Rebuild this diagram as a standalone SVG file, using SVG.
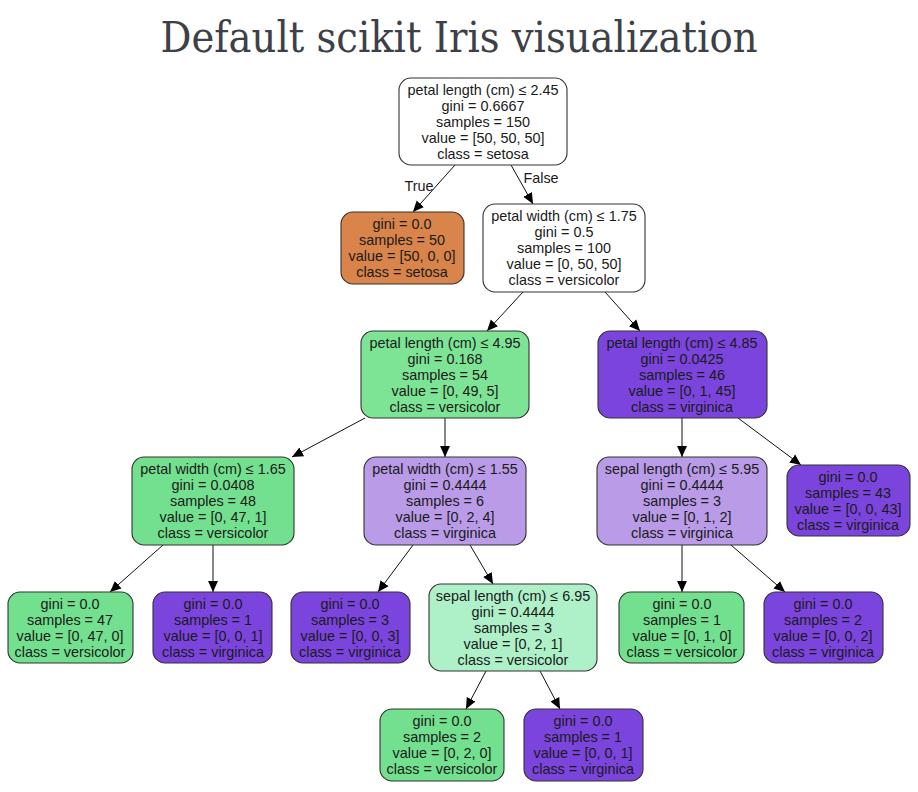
<svg xmlns="http://www.w3.org/2000/svg" width="918" height="792" viewBox="0 0 918 792">
<defs>
<style>
.title{font-family:"DejaVu Serif","Liberation Serif",serif;font-size:42px;fill:#3d4147}
.n rect{stroke:#333;stroke-width:1.1}
.n text{font-family:"Liberation Sans",Arial,sans-serif;font-size:14.4px;fill:#1a1a1a;text-anchor:middle}
.e line{stroke:#111;stroke-width:1}
.lbl{font-family:"Liberation Sans",Arial,sans-serif;font-size:14.4px;fill:#1a1a1a;text-anchor:middle}
.w{fill:#ffffff}.o{fill:#d9844a}.g{fill:#72e08e}.g2{fill:#7de495}.p{fill:#7b45dd}.lp{fill:#b99be8}.lg{fill:#aef0c8}
</style>
<marker id="ah" viewBox="0 0 10 10" refX="10" refY="5" markerWidth="11" markerHeight="11" markerUnits="userSpaceOnUse" orient="auto">
<path d="M0,0.5 L10,5 L0,9.5 Z" fill="#000"/>
</marker>
</defs>
<rect width="918" height="792" fill="#fff"/>
<text class="title" x="459" y="52" text-anchor="middle" textLength="597" lengthAdjust="spacingAndGlyphs">Default scikit Iris visualization</text>

<g id="connectors" class="e">
<line x1="455" y1="165" x2="413" y2="212" marker-end="url(#ah)"/>
<line x1="511" y1="165" x2="533" y2="204" marker-end="url(#ah)"/>
<line x1="523" y1="292" x2="487" y2="331" marker-end="url(#ah)"/>
<line x1="605" y1="292" x2="640" y2="331" marker-end="url(#ah)"/>
<line x1="365" y1="418" x2="292" y2="457" marker-end="url(#ah)"/>
<line x1="445" y1="418" x2="445" y2="457" marker-end="url(#ah)"/>
<line x1="682" y1="418" x2="682" y2="457" marker-end="url(#ah)"/>
<line x1="738" y1="418" x2="801" y2="465" marker-end="url(#ah)"/>
<line x1="163" y1="545" x2="110" y2="592" marker-end="url(#ah)"/>
<line x1="213" y1="545" x2="213" y2="592" marker-end="url(#ah)"/>
<line x1="413" y1="545" x2="378" y2="592" marker-end="url(#ah)"/>
<line x1="470" y1="545" x2="493" y2="584" marker-end="url(#ah)"/>
<line x1="682" y1="545" x2="682" y2="592" marker-end="url(#ah)"/>
<line x1="731" y1="545" x2="785" y2="592" marker-end="url(#ah)"/>
<line x1="486" y1="671" x2="466" y2="709" marker-end="url(#ah)"/>
<line x1="540" y1="671" x2="560" y2="709" marker-end="url(#ah)"/>
<text class="lbl" x="419" y="191">True</text>
<text class="lbl" x="541" y="183">False</text>
</g>

<g id="n0" class="n">
<rect class="w" x="399" y="78" width="168" height="87" rx="12"/>
<text x="483" y="95">petal length (cm) ≤ 2.45</text>
<text x="483" y="111">gini = 0.6667</text>
<text x="483" y="127">samples = 150</text>
<text x="483" y="143">value = [50, 50, 50]</text>
<text x="483" y="159">class = setosa</text>
</g>
<g id="n1" class="n">
<rect class="o" x="341" y="212" width="123" height="72" rx="12"/>
<text x="402" y="229">gini = 0.0</text>
<text x="402" y="245">samples = 50</text>
<text x="402" y="261">value = [50, 0, 0]</text>
<text x="402" y="277">class = setosa</text>
</g>
<g id="n2" class="n">
<rect class="w" x="483" y="204" width="162" height="88" rx="12"/>
<text x="564" y="221">petal width (cm) ≤ 1.75</text>
<text x="564" y="237">gini = 0.5</text>
<text x="564" y="253">samples = 100</text>
<text x="564" y="269">value = [0, 50, 50]</text>
<text x="564" y="285">class = versicolor</text>
</g>
<g id="n3" class="n">
<rect class="g2" x="361" y="331" width="168" height="87" rx="12"/>
<text x="445" y="348">petal length (cm) ≤ 4.95</text>
<text x="445" y="364">gini = 0.168</text>
<text x="445" y="380">samples = 54</text>
<text x="445" y="396">value = [0, 49, 5]</text>
<text x="445" y="412">class = versicolor</text>
</g>
<g id="n4" class="n">
<rect class="p" x="598" y="331" width="169" height="87" rx="12"/>
<text x="682" y="348">petal length (cm) ≤ 4.85</text>
<text x="682" y="364">gini = 0.0425</text>
<text x="682" y="380">samples = 46</text>
<text x="682" y="396">value = [0, 1, 45]</text>
<text x="682" y="412">class = virginica</text>
</g>
<g id="n5" class="n">
<rect class="g" x="132" y="457" width="162" height="88" rx="12"/>
<text x="213" y="474">petal width (cm) ≤ 1.65</text>
<text x="213" y="490">gini = 0.0408</text>
<text x="213" y="506">samples = 48</text>
<text x="213" y="522">value = [0, 47, 1]</text>
<text x="213" y="538">class = versicolor</text>
</g>
<g id="n6" class="n">
<rect class="lp" x="364" y="457" width="162" height="88" rx="12"/>
<text x="445" y="474">petal width (cm) ≤ 1.55</text>
<text x="445" y="490">gini = 0.4444</text>
<text x="445" y="506">samples = 6</text>
<text x="445" y="522">value = [0, 2, 4]</text>
<text x="445" y="538">class = virginica</text>
</g>
<g id="n7" class="n">
<rect class="lp" x="597" y="457" width="170" height="88" rx="12"/>
<text x="682" y="474">sepal length (cm) ≤ 5.95</text>
<text x="682" y="490">gini = 0.4444</text>
<text x="682" y="506">samples = 3</text>
<text x="682" y="522">value = [0, 1, 2]</text>
<text x="682" y="538">class = virginica</text>
</g>
<g id="n8" class="n">
<rect class="p" x="787" y="465" width="123" height="71" rx="12"/>
<text x="848" y="482">gini = 0.0</text>
<text x="848" y="498">samples = 43</text>
<text x="848" y="514">value = [0, 0, 43]</text>
<text x="848" y="530">class = virginica</text>
</g>
<g id="n9" class="n">
<rect class="g" x="8" y="592" width="125" height="71" rx="12"/>
<text x="70" y="609">gini = 0.0</text>
<text x="70" y="625">samples = 47</text>
<text x="70" y="641">value = [0, 47, 0]</text>
<text x="70" y="657">class = versicolor</text>
</g>
<g id="n10" class="n">
<rect class="p" x="153" y="592" width="119" height="71" rx="12"/>
<text x="213" y="609">gini = 0.0</text>
<text x="213" y="625">samples = 1</text>
<text x="213" y="641">value = [0, 0, 1]</text>
<text x="213" y="657">class = virginica</text>
</g>
<g id="n11" class="n">
<rect class="p" x="291" y="592" width="119" height="71" rx="12"/>
<text x="350" y="609">gini = 0.0</text>
<text x="350" y="625">samples = 3</text>
<text x="350" y="641">value = [0, 0, 3]</text>
<text x="350" y="657">class = virginica</text>
</g>
<g id="n12" class="n">
<rect class="lg" x="429" y="584" width="168" height="87" rx="12"/>
<text x="513" y="601">sepal length (cm) ≤ 6.95</text>
<text x="513" y="617">gini = 0.4444</text>
<text x="513" y="633">samples = 3</text>
<text x="513" y="649">value = [0, 2, 1]</text>
<text x="513" y="665">class = versicolor</text>
</g>
<g id="n13" class="n">
<rect class="g" x="619" y="592" width="125" height="71" rx="12"/>
<text x="682" y="609">gini = 0.0</text>
<text x="682" y="625">samples = 1</text>
<text x="682" y="641">value = [0, 1, 0]</text>
<text x="682" y="657">class = versicolor</text>
</g>
<g id="n14" class="n">
<rect class="p" x="764" y="592" width="119" height="71" rx="12"/>
<text x="823" y="609">gini = 0.0</text>
<text x="823" y="625">samples = 2</text>
<text x="823" y="641">value = [0, 0, 2]</text>
<text x="823" y="657">class = virginica</text>
</g>
<g id="n15" class="n">
<rect class="g" x="380" y="709" width="124" height="72" rx="12"/>
<text x="442" y="726">gini = 0.0</text>
<text x="442" y="742">samples = 2</text>
<text x="442" y="758">value = [0, 2, 0]</text>
<text x="442" y="774">class = versicolor</text>
</g>
<g id="n16" class="n">
<rect class="p" x="524" y="709" width="119" height="72" rx="12"/>
<text x="583" y="726">gini = 0.0</text>
<text x="583" y="742">samples = 1</text>
<text x="583" y="758">value = [0, 0, 1]</text>
<text x="583" y="774">class = virginica</text>
</g>
</svg>
